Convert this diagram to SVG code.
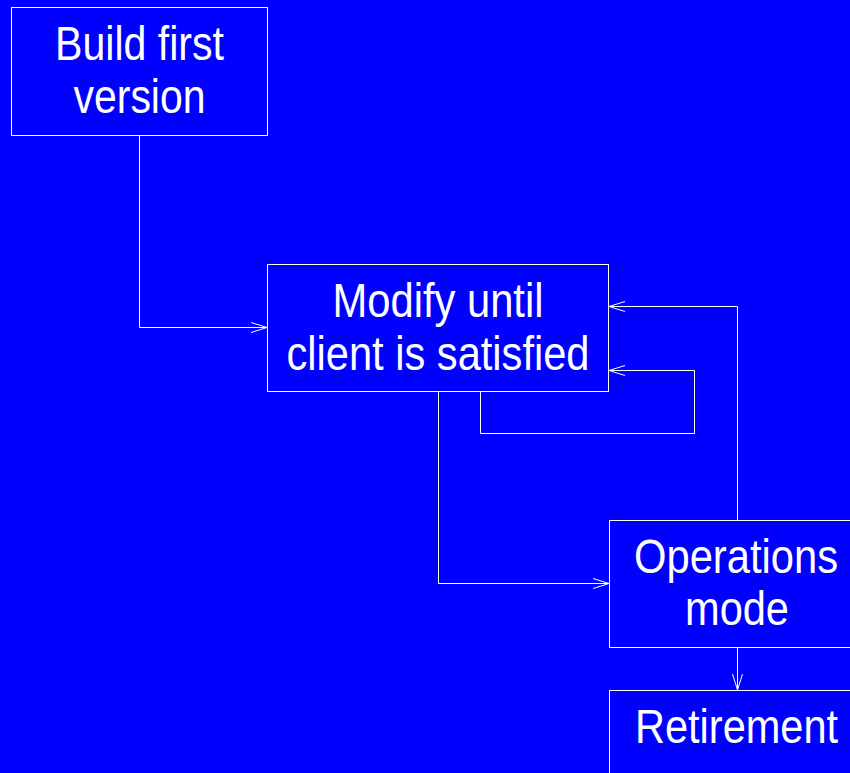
<svg xmlns="http://www.w3.org/2000/svg" width="850" height="773" viewBox="0 0 850 773">
  <defs>
    <marker id="open" markerWidth="18" markerHeight="12" refX="16" refY="6" orient="auto" markerUnits="userSpaceOnUse">
      <path d="M0,1 L16,6 L0,11" fill="none" stroke="#fff" stroke-width="1"/>
    </marker>
    <style>
      .box { fill: #0000ff; stroke: #fff; stroke-width: 1; }
      .lbl { fill: #fff; font-family: "Liberation Sans", Arial, sans-serif; font-size: 48px; text-anchor: middle; }
      .edge { fill: none; stroke: #fff; stroke-width: 1; marker-end: url(#open); }
    </style>
  </defs>
  <rect width="850" height="773" fill="#0000ff"/>

  <g id="connectors">
    <path class="edge" d="M139.5,135 V327.5 H267"/>
    <path class="edge" d="M438.5,391 V583.5 H609"/>
    <path class="edge" d="M737.5,520 V306.5 H609"/>
    <path class="edge" d="M480.5,391 V433.5 H694.5 V370.5 H609"/>
    <path class="edge" d="M737.5,647 V690"/>
  </g>

  <g id="build">
    <rect class="box" x="11.5" y="7.5" width="256" height="128"/>
    <text class="lbl" x="139.5" y="60" textLength="169" lengthAdjust="spacingAndGlyphs">Build first</text>
    <text class="lbl" x="139.5" y="113" textLength="132" lengthAdjust="spacingAndGlyphs">version</text>
  </g>

  <g id="modify">
    <rect class="box" x="267.5" y="264.5" width="341" height="127"/>
    <text class="lbl" x="438" y="317" textLength="211" lengthAdjust="spacingAndGlyphs">Modify until</text>
    <text class="lbl" x="438" y="370" textLength="303" lengthAdjust="spacingAndGlyphs">client is satisfied</text>
  </g>

  <g id="operations">
    <rect class="box" x="609.5" y="520.5" width="256" height="127"/>
    <text class="lbl" x="736" y="573" textLength="204" lengthAdjust="spacingAndGlyphs">Operations</text>
    <text class="lbl" x="737" y="625" textLength="104" lengthAdjust="spacingAndGlyphs">mode</text>
  </g>

  <g id="retirement">
    <rect class="box" x="609.5" y="690.5" width="256" height="127"/>
    <text class="lbl" x="736.5" y="743" textLength="203" lengthAdjust="spacingAndGlyphs">Retirement</text>
  </g>
</svg>
